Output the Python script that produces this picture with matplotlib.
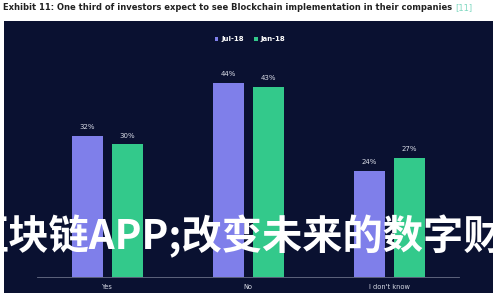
import matplotlib.pyplot as plt
import numpy as np
from matplotlib.patches import Rectangle

# 数据
categories = ['Yes', 'No', "I don't know"]
jul18 = [32, 44, 24]
jan18 = [30, 43, 27]
series_names = ['Jul-18', 'Jan-18']
title = 'Exhibit 11: One third of investors expect to see Blockchain implementation in their companies'
watermark = '区块链APP;改变未来的数字财'

navy = '#0a1131'
purple = '#7f7fea'
green = '#33c98b'

fig = plt.figure(figsize=(5, 3), dpi=100)
fig.patch.set_facecolor('white')

# 深色背景面板
fig.patches.append(Rectangle((4 / 500, 7 / 300), 489 / 500, 272 / 300,
                             transform=fig.transFigure, facecolor=navy,
                             edgecolor='none', zorder=-5))

ax = fig.add_axes([36.5 / 500, 23 / 300, 423 / 500, 221 / 300])
ax.set_facecolor('none')
ax.set_zorder(1)
x = np.arange(len(categories))
w = 0.22
b1 = ax.bar(x - 0.14, jul18, w, color=purple, label=series_names[0], zorder=2)
b2 = ax.bar(x + 0.145, jan18, w, color=green, label=series_names[1], zorder=2)
for bars, vals in [(b1, jul18), (b2, jan18)]:
    for b, v in zip(bars, vals):
        ax.text(b.get_x() + b.get_width() / 2, v + 1.3, f'{v}%', ha='center',
                va='bottom', fontsize=5, color='#d8dbe6')

ax.set_xlim(-0.5, 2.5)
ax.set_ylim(0, 50)
ax.set_xticks(x)
ax.set_xticklabels(categories, fontsize=4.8, color='#d8dbe6')
ax.tick_params(axis='x', length=0, pad=5)
ax.set_yticks([])
for s in ['top', 'right', 'left']:
    ax.spines[s].set_visible(False)
ax.spines['bottom'].set_color('#6a7088')
ax.spines['bottom'].set_linewidth(0.6)

leg = fig.legend(loc='center', bbox_to_anchor=(0.5, 1 - 39 / 300), ncol=2,
                 frameon=False, fontsize=5, handlelength=0.5, handleheight=0.5,
                 handletextpad=0.4, columnspacing=1.5, labelcolor='white')
for t in leg.get_texts():
    t.set_fontweight('bold')

# 标题
tt = fig.text(3 / 500, 1 - 8 / 300, title, fontsize=6.0, fontweight='bold',
              color='#222222', va='center', ha='left')
ax.annotate('[11]', xy=(1, 0.5), xycoords=tt, xytext=(2, 0),
            textcoords='offset points', fontsize=6.0, color='#7fd8c0',
            va='center', ha='left', annotation_clip=False)

# 水印文字
fig.text(-31 / 500, 1 - 237 / 300, watermark, fontsize=29, fontweight='bold',
         color='white', va='center', ha='left',
         family=['Noto Sans CJK SC', 'DejaVu Sans'], zorder=5)

fig.savefig('out.png', dpi=100)
